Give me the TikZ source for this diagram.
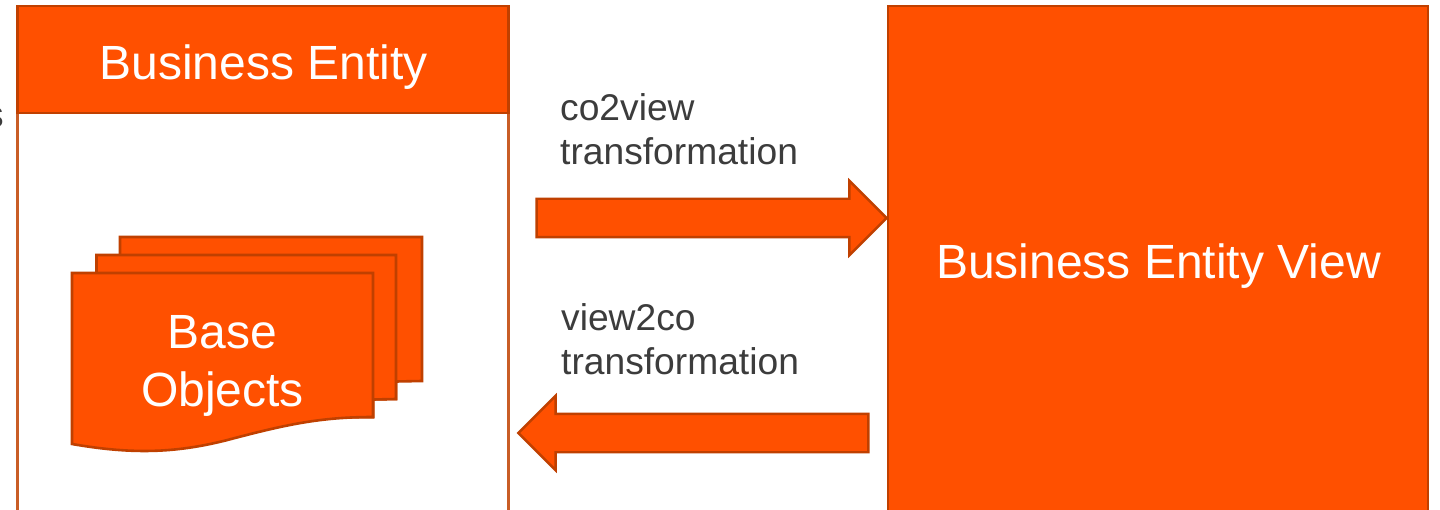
\documentclass[tikz,border=0pt]{standalone}
\usepackage{fontspec}
\setmainfont{Liberation Sans}
\usetikzlibrary{shapes.arrows}
\definecolor{brandfill}{HTML}{FF5000}
\definecolor{brandline}{HTML}{C04000}
\definecolor{labelgrey}{HTML}{3C3C3C}
\tikzset{
  x=1pt,y=-1pt,
  panel/.style={rectangle,draw=brandline,line width=2.4pt,inner sep=0pt,outer sep=0pt,anchor=north west},
  filledpanel/.style={panel,fill=brandfill},
  paneltitle/.style={text=white,font=\fontsize{48}{58}\selectfont,align=center,inner sep=0pt},
  sheet/.style={draw=brandline,fill=brandfill,line width=2.6pt,line join=miter},
  blockarrow/.style={single arrow,draw=brandline,fill=brandfill,line width=2.4pt,inner xsep=0pt,inner ysep=18pt,outer sep=0pt,
    minimum height=350pt,single arrow head extend=18pt,single arrow tip angle=90,anchor=center},
  caption/.style={text=labelgrey,font=\fontsize{37.2}{44}\selectfont,align=left,anchor=north west,inner sep=0pt},
}
\begin{document}
\begin{tikzpicture}
\clip (0,0) rectangle (1440,510);
\useasboundingbox (0,0) rectangle (1440,510);
\fill[white] (0,0) rectangle (1440,510);
% clipped fragment of a word at the left edge
\node[text=labelgrey,font=\fontsize{37.2}{44}\selectfont,anchor=base east,inner sep=0pt] (frag) at (4,128) {s};
% left panel
\node[panel,draw=brandline!85!white,line width=2.4pt,minimum width=491pt,minimum height=420pt] (entitybody) at (17.5,113) {};
\node[filledpanel,minimum width=491pt,minimum height=107pt] (entityhead) at (17.5,6) {};
\node[paneltitle] (entitytitle) at (263.5,67) {Business Entity};
% right panel
\node[filledpanel,minimum width=540pt,minimum height=512pt] (view) at (888,6) {};
\node[paneltitle] (viewtitle) at (1158.5,266) {Business Entity View};
% stacked documents
\path[sheet] (120,237) -- (422,237) -- (422,381) -- (396,381.5) -- (396,399) -- (373,399.5) -- (373,417) -- (120,417) -- cycle;
\path[sheet] (96.5,255) -- (396,255) -- (396,399) -- (373,399.5) -- (373,417) -- (96.5,417) -- cycle;
\path[sheet] (72,273) -- (373,273) -- (373,417)
  .. controls (320,417) and (285,425) .. (235,438)
  .. controls (180,453) and (135,455) .. (72,444) -- cycle;
\node[paneltitle] (base) at (222.5,366) {Base\\Objects};
% block arrows
\node[blockarrow] (co2view) at (702,218) {};
\node[blockarrow,shape border rotate=180] (view2co) at (703,433) {};
% captions
\node[caption] (lab1) at (560,93) {co2view\\transformation};
\node[caption] (lab2) at (561,303) {view2co\\transformation};
\end{tikzpicture}
\end{document}
